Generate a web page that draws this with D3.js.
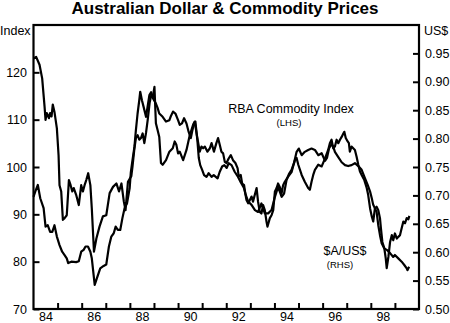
<!DOCTYPE html>
<html>
<head>
<meta charset="utf-8">
<script src="https://cdn.jsdelivr.net/npm/d3@7"></script>
<style>
  html, body { margin: 0; padding: 0; background: #fff; }
  svg { display: block; }
  text { font-family: "Liberation Sans", Arial, Helvetica, sans-serif; fill: #000; }
</style>
</head>
<body>
<svg id="chart" width="450" height="323"></svg>
<script>
// ---- Data ----
const chartTitle = "Australian Dollar & Commodity Prices";
const leftTicks = [70, 80, 90, 100, 110, 120];
const rightTicks = [0.50, 0.55, 0.60, 0.65, 0.70, 0.75, 0.80, 0.85, 0.90, 0.95];
const yearTicks = [1985,1986,1987,1988,1989,1990,1991,1992,1993,1994,1995,1996,1997,1998,1999];
const yearLabels = ["84","86","88","90","92","94","96","98"];

// $A/US$ (RHS)
const audDates = [1984.00,1984.11,1984.25,1984.36,1984.46,1984.50,1984.55,1984.64,1984.69,1984.75,1984.80,1984.87,1984.97,
1985.04,1985.08,1985.15,1985.22,1985.29,1985.38,1985.47,1985.54,1985.61,1985.67,1985.77,1985.88,1985.98,
1986.05,1986.12,1986.19,1986.27,1986.36,1986.42,1986.51,1986.61,1986.74,1986.88,
1987.02,1987.16,1987.30,1987.44,1987.55,1987.65,1987.75,1987.82,1987.92,
1988.06,1988.11,1988.19,1988.25,1988.32,1988.39,1988.46,1988.53,1988.60,1988.67,1988.74,1988.82,1988.89,1988.95,
1989.02,1989.08,1989.15,1989.22,1989.29,1989.36,1989.50,1989.64,1989.78,1989.86,1989.93,
1990.00,1990.07,1990.21,1990.35,1990.48,1990.62,1990.69,1990.78,1990.90,1990.97,
1991.04,1991.11,1991.22,1991.32,1991.39,1991.49,1991.59,1991.66,1991.73,1991.80,1991.87,1991.94,
1992.01,1992.10,1992.19,1992.28,1992.38,1992.47,1992.52,1992.60,1992.66,1992.74,1992.80,1992.84,1992.91,1992.98,
1993.05,1993.11,1993.26,1993.32,1993.39,1993.46,1993.53,1993.60,1993.67,1993.71,1993.81,1993.88,1993.95,
1994.02,1994.09,1994.15,1994.22,1994.30,1994.36,1994.43,1994.57,1994.71,1994.78,1994.85,1994.92,1994.99,
1995.13,1995.26,1995.40,1995.47,1995.54,1995.61,1995.68,1995.82,1995.96,
1996.10,1996.23,1996.30,1996.37,1996.44,1996.51,1996.58,1996.65,1996.72,1996.79,1996.86,1996.90,1996.96,
1997.04,1997.09,1997.13,1997.20,1997.27,1997.34,1997.41,1997.48,1997.55,1997.62,1997.73,1997.83,1997.89,1997.97,
1998.04,1998.10,1998.17,1998.24,1998.31,1998.38,1998.42,1998.48,1998.56,1998.62,1998.66,1998.73,1998.80,1998.87,1998.93,
1999.00,1999.08,1999.14,1999.21,1999.28,1999.35,1999.42,1999.49,1999.56,1999.60];
const audValues = [0.941,0.944,0.930,0.906,0.856,0.833,0.845,0.836,0.845,0.839,0.860,0.847,0.818,
0.771,0.718,0.707,0.657,0.660,0.665,0.727,0.718,0.707,0.713,0.701,0.683,0.718,
0.707,0.718,0.727,0.739,0.718,0.677,0.601,0.624,0.645,0.663,
0.665,0.704,0.715,0.721,0.707,0.721,0.689,0.674,0.724,
0.734,0.751,0.783,0.801,0.806,0.798,0.801,0.809,0.792,0.810,0.833,0.863,0.877,0.873,
0.891,0.827,0.815,0.803,0.757,0.754,0.762,0.777,0.783,0.795,0.789,
0.774,0.777,0.762,0.780,0.805,0.824,0.830,0.806,0.777,0.786,
0.783,0.786,0.777,0.783,0.792,0.777,0.792,0.801,0.789,0.777,0.774,0.759,
0.757,0.765,0.771,0.762,0.757,0.748,0.733,0.736,0.721,0.718,0.701,0.692,0.686,0.692,
0.698,0.689,0.713,0.689,0.671,0.668,0.683,0.674,0.654,0.645,0.660,0.665,0.674,
0.707,0.713,0.721,0.715,0.704,0.718,0.724,0.733,0.741,0.752,0.762,0.766,0.754,
0.736,0.724,0.713,0.710,0.724,0.736,0.745,0.754,0.751,
0.765,0.780,0.792,0.798,0.783,0.786,0.798,0.792,0.798,0.803,0.809,0.812,0.801,
0.795,0.792,0.777,0.786,0.783,0.780,0.768,0.754,0.742,0.736,0.727,0.713,0.701,0.677,
0.663,0.654,0.677,0.680,0.674,0.660,0.642,0.618,0.607,0.589,0.572,0.592,0.618,0.630,0.621,
0.633,0.624,0.627,0.630,0.642,0.654,0.651,0.660,0.658,0.664];

// RBA Commodity Index (LHS)
const commDates = [1984.00,1984.08,1984.18,1984.28,1984.42,1984.50,1984.59,1984.69,1984.78,1984.87,1984.97,
1985.08,1985.19,1985.29,1985.38,1985.44,1985.57,1985.77,1985.88,1985.98,
1986.08,1986.16,1986.26,1986.36,1986.42,1986.54,1986.65,1986.77,1986.91,
1987.02,1987.13,1987.23,1987.33,1987.41,1987.50,1987.60,1987.69,1987.78,1987.88,1987.99,
1988.04,1988.11,1988.19,1988.25,1988.32,1988.39,1988.43,1988.50,1988.57,1988.67,1988.74,1988.81,1988.88,1988.95,
1989.08,1989.15,1989.22,1989.36,1989.50,1989.64,1989.69,1989.79,1989.89,
1990.00,1990.07,1990.16,1990.25,1990.35,1990.44,1990.53,1990.58,1990.66,1990.72,1990.80,1990.86,1990.92,
1991.00,1991.08,1991.18,1991.27,1991.39,1991.48,1991.64,1991.73,1991.83,1991.92,
1992.02,1992.10,1992.22,1992.35,1992.49,1992.60,1992.73,1992.81,1992.91,
1993.05,1993.19,1993.32,1993.46,1993.60,1993.74,1993.88,
1994.02,1994.15,1994.30,1994.40,1994.50,1994.60,1994.71,1994.81,1994.92,
1995.01,1995.13,1995.26,1995.40,1995.54,1995.68,1995.82,1995.96,
1996.10,1996.18,1996.27,1996.37,1996.44,1996.51,1996.65,1996.79,1996.93,
1997.06,1997.20,1997.34,1997.48,1997.62,1997.76,1997.87,1997.97,
1998.04,1998.10,1998.17,1998.24,1998.31,1998.38,1998.45,1998.56,1998.66,1998.80,1998.93,
1999.00,1999.14,1999.28,1999.39,1999.49,1999.52,1999.59];
const commValues = [93.7,94.9,96.2,93.4,91.3,87.4,87.7,86.3,86.3,87.7,85.3,
83.5,82.1,81.4,80.7,79.7,80.0,79.9,80.1,82.1,
82.5,83.2,83.2,82.1,80.7,75.1,76.8,78.6,79.1,
79.4,83.2,85.3,86.0,87.4,86.7,86.7,89.2,91.3,92.3,95.5,
98.9,101.5,104.3,107.8,111.3,114.1,115.9,114.1,112.7,110.6,112.9,115.2,115.8,114.6,
113.4,112.5,111.3,110.6,109.6,109.9,110.6,111.7,111.3,
109.9,108.9,109.2,110.3,109.2,107.4,106.1,107.4,109.2,109.6,105.7,101.9,100.4,
99.4,98.3,97.9,98.7,97.9,98.3,97.6,99.0,100.1,100.4,
99.8,100.8,100.4,99.0,97.9,96.8,95.6,94.1,92.7,
92.0,90.9,90.5,92.3,90.2,90.2,90.9,
93.7,95.8,93.7,94.4,97.2,98.5,99.4,100.8,103.2,
103.9,102.5,103.2,103.6,103.9,103.6,102.5,102.9,
101.3,101.9,104.0,104.8,104.3,103.2,102.1,101.0,100.4,
100.2,100.4,100.8,100.2,99.4,97.6,96.2,94.8,
93.4,92.0,91.3,90.5,87.7,85.6,83.9,82.8,82.5,81.8,81.0,
81.4,80.7,80.0,79.3,78.6,78.2,78.9];

// ---- Drawing ----
const svg = d3.select("#chart");
const L = 33.5, R = 419, T = 25, B = 309;

const x = d3.scaleLinear().domain([1984, 2000]).range([L, R]);
const yL = d3.scaleLinear().domain([70, 130]).range([B, T]);
const yR = d3.scaleLinear().domain([0.50, 1.00]).range([B, T]);

// Title
svg.append("text")
  .attr("x", 225).attr("y", 14)
  .attr("text-anchor", "middle")
  .style("font-size", "17px").style("font-weight", "bold")
  .text(chartTitle);

// Axis unit labels
svg.append("text").attr("x", 0).attr("y", 34.5)
  .style("font-size", "12.5px").text("Index");
svg.append("text").attr("x", 424).attr("y", 34.5)
  .style("font-size", "12.5px").text("US$");

function styleAxis(g) {
  g.select(".domain").remove();
  g.selectAll(".tick line").attr("stroke", "#000").attr("stroke-width", 2);
  g.selectAll(".tick text").style("font-size", "12.5px")
    .style("font-family", "'Liberation Sans', Arial, sans-serif").attr("fill", "#000");
}

// Left axis
svg.append("g").attr("transform", `translate(${L},0)`)
  .call(d3.axisLeft(yL).tickValues(leftTicks).tickSize(-6).tickPadding(6.5).tickFormat(d3.format("d")))
  .call(styleAxis);

// Right axis
svg.append("g").attr("transform", `translate(${R},0)`)
  .call(d3.axisRight(yR).tickValues(rightTicks).tickSize(-6).tickPadding(6).tickFormat(d3.format(".2f")))
  .call(styleAxis);

// Bottom axis: year-boundary ticks
svg.append("g").attr("transform", `translate(0,${B})`)
  .call(d3.axisBottom(x).tickValues(yearTicks).tickSize(-6).tickFormat(""))
  .call(styleAxis);

// Bottom axis: labels centred in the year
svg.append("g").attr("transform", `translate(0,${B})`)
  .call(d3.axisBottom(x)
        .tickValues(yearLabels.map(s => 1900 + (+s) + 0.5))
        .tickSize(0).tickPadding(3.5)
        .tickFormat((d, i) => yearLabels[i]))
  .call(styleAxis);

// Frame
svg.append("rect")
  .attr("x", L).attr("y", T).attr("width", R - L).attr("height", B - T)
  .attr("fill", "none").attr("stroke", "#000").attr("stroke-width", 2.2);

// Lines
const audData = audDates.map((d, i) => [d, audValues[i]]);
const commData = commDates.map((d, i) => [d, commValues[i]]);

svg.append("path")
  .datum(commData)
  .attr("fill", "none").attr("stroke", "#000").attr("stroke-width", 2.2)
  .attr("stroke-linejoin", "round")
  .attr("d", d3.line().x(d => x(d[0])).y(d => yL(d[1])));

svg.append("path")
  .datum(audData)
  .attr("fill", "none").attr("stroke", "#000").attr("stroke-width", 2.2)
  .attr("stroke-linejoin", "round")
  .attr("d", d3.line().x(d => x(d[0])).y(d => yR(d[1])));

// Annotations
svg.append("text").attr("x", 291).attr("y", 112.5)
  .attr("text-anchor", "middle").style("font-size", "12.5px")
  .text("RBA Commodity Index");
svg.append("text").attr("x", 289).attr("y", 125.5)
  .attr("text-anchor", "middle").style("font-size", "9.5px")
  .text("(LHS)");
svg.append("text").attr("x", 345).attr("y", 254.5)
  .attr("text-anchor", "middle").style("font-size", "12.5px")
  .text("$A/US$");
svg.append("text").attr("x", 340).attr("y", 267.5)
  .attr("text-anchor", "middle").style("font-size", "9.5px")
  .text("(RHS)");
</script>
</body>
</html>
